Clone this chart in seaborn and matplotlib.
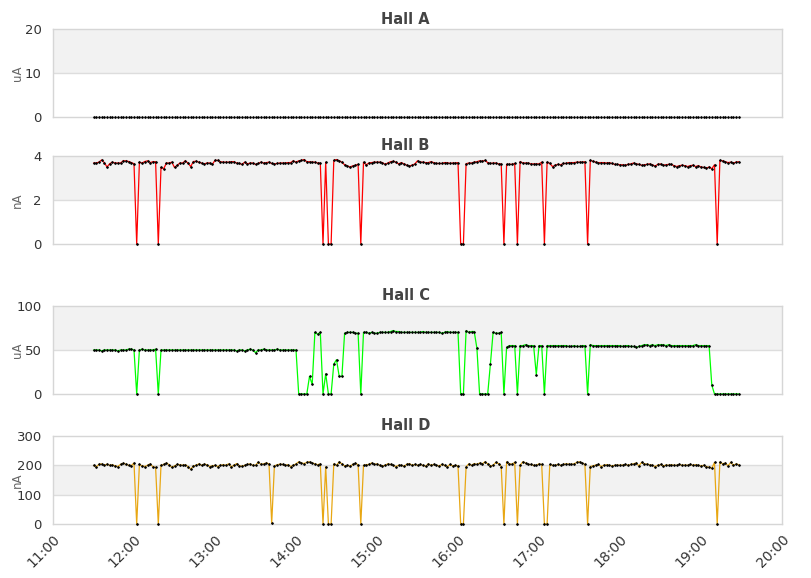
#! python3

# Import Libraries
import pandas as pd
import matplotlib
matplotlib.use("Agg")
import matplotlib.pyplot as plt
import matplotlib.dates as mdates
import seaborn as sns

# Beam current per hall, one reading every 2 minutes from 11:30

start_time = "2020-01-01 11:30"
sample_step = "2min"
n_points = 240

hall_a = [0.0] * n_points

hall_b = [
    3.68, 3.68, 3.72, 3.82, 3.70, 3.50, 3.65, 3.72, 3.68, 3.68, 3.68, 3.78, 3.78, 3.75, 3.70, 3.65, 0.0, 3.72, 3.68, 3.75,
    3.78, 3.70, 3.74, 3.74, 0.0, 3.48, 3.42, 3.68, 3.68, 3.72, 3.48, 3.58, 3.68, 3.68, 3.78, 3.68, 3.52, 3.75, 3.76, 3.72,
    3.68, 3.64, 3.68, 3.68, 3.62, 3.80, 3.80, 3.74, 3.72, 3.72, 3.72, 3.74, 3.74, 3.68, 3.66, 3.62, 3.72, 3.64, 3.68, 3.68,
    3.62, 3.66, 3.72, 3.68, 3.70, 3.72, 3.66, 3.64, 3.66, 3.68, 3.68, 3.68, 3.70, 3.70, 3.78, 3.72, 3.78, 3.80, 3.84, 3.74,
    3.74, 3.72, 3.72, 3.68, 3.68, 0.0, 3.72, 0.0, 0.0, 3.80, 3.84, 3.78, 3.72, 3.60, 3.55, 3.50, 3.55, 3.58, 3.62, 0.0,
    3.72, 3.60, 3.68, 3.70, 3.72, 3.72, 3.72, 3.70, 3.62, 3.68, 3.74, 3.76, 3.72, 3.64, 3.70, 3.64, 3.58, 3.55, 3.58, 3.64,
    3.78, 3.72, 3.72, 3.70, 3.70, 3.74, 3.70, 3.66, 3.66, 3.66, 3.70, 3.70, 3.66, 3.68, 3.68, 3.70, 0.0, 0.0, 3.65, 3.68,
    3.68, 3.72, 3.74, 3.78, 3.76, 3.80, 3.70, 3.66, 3.68, 3.68, 3.64, 3.64, 0.0, 3.62, 3.62, 3.62, 3.66, 0.0, 3.75, 3.68,
    3.68, 3.68, 3.64, 3.64, 3.64, 3.64, 3.72, 0.0, 3.72, 3.66, 3.52, 3.58, 3.62, 3.60, 3.66, 3.66, 3.70, 3.70, 3.70, 3.72,
    3.72, 3.72, 3.74, 0.0, 3.80, 3.76, 3.72, 3.70, 3.70, 3.70, 3.68, 3.70, 3.66, 3.62, 3.62, 3.60, 3.60, 3.58, 3.62, 3.64,
    3.68, 3.64, 3.62, 3.58, 3.60, 3.62, 3.64, 3.60, 3.54, 3.62, 3.64, 3.58, 3.60, 3.62, 3.62, 3.56, 3.52, 3.56, 3.58, 3.56,
    3.52, 3.56, 3.58, 3.52, 3.56, 3.50, 3.48, 3.45, 3.50, 3.42, 3.60, 0.0, 3.80, 3.78, 3.74, 3.70, 3.72, 3.68, 3.72, 3.74,
]

hall_c = [
    50, 50, 50, 49, 50, 50, 50, 50, 50, 49, 50, 50, 50, 51, 51, 50, 0, 50, 51, 50,
    50, 50, 50, 51, 0, 50, 50, 50, 50, 50, 50, 50, 50, 50, 50, 50, 50, 50, 50, 50,
    50, 50, 50, 50, 50, 50, 50, 50, 50, 50, 50, 50, 50, 49, 50, 50, 49, 50, 51, 50,
    47, 50, 50, 51, 50, 50, 50, 50, 51, 50, 50, 50, 50, 50, 50, 50, 0, 0, 0, 0,
    20, 11, 70, 68, 70, 0, 23, 0, 0, 34, 39, 20, 20, 69, 70, 70, 70, 69, 69, 0,
    70, 70, 69, 70, 69, 69, 70, 70, 70, 70, 71, 72, 71, 71, 70, 70, 70, 70, 70, 70,
    70, 70, 71, 70, 70, 70, 70, 70, 70, 69, 70, 71, 70, 70, 70, 70, 0, 0, 72, 70,
    71, 71, 52, 0, 0, 0, 0, 34, 70, 69, 69, 70, 0, 53, 55, 55, 55, 0, 55, 55,
    56, 55, 55, 55, 22, 55, 55, 0, 55, 55, 55, 55, 55, 55, 55, 55, 54, 54, 55, 54,
    54, 55, 55, 0, 56, 55, 55, 55, 55, 55, 55, 55, 55, 55, 55, 55, 54, 55, 55, 54,
    54, 53, 54, 55, 56, 56, 55, 56, 55, 56, 56, 56, 55, 56, 55, 55, 55, 55, 55, 55,
    55, 55, 55, 56, 55, 55, 55, 55, 55, 10, 0, 0, 0, 0, 0, 0, 0, 0, 0, 0,
]

hall_d = [
    200, 195, 203, 205, 200, 204, 200, 202, 198, 196, 203, 207, 204, 200, 199, 208, 0, 203, 198, 196,
    200, 205, 195, 193, 0, 200, 203, 208, 202, 193, 198, 203, 202, 200, 202, 196, 186, 198, 200, 205,
    200, 204, 202, 196, 198, 200, 196, 200, 202, 200, 205, 195, 200, 206, 198, 197, 200, 203, 205, 200,
    200, 211, 203, 205, 208, 205, 3, 198, 202, 204, 203, 200, 202, 196, 200, 205, 212, 208, 206, 210,
    212, 208, 205, 202, 205, 0, 195, 0, 0, 205, 200, 212, 205, 198, 200, 197, 203, 207, 202, 0,
    200, 202, 203, 208, 203, 205, 200, 198, 200, 205, 203, 200, 196, 200, 200, 197, 203, 206, 200, 203,
    200, 203, 200, 197, 205, 200, 203, 200, 198, 203, 200, 195, 203, 198, 200, 198, 0, 0, 195, 205,
    200, 206, 203, 208, 205, 212, 205, 198, 200, 210, 206, 196, 0, 212, 205, 204, 210, 0, 200, 212,
    208, 203, 203, 200, 200, 205, 203, 0, 0, 203, 200, 200, 203, 200, 203, 205, 204, 203, 205, 210,
    212, 208, 203, 0, 196, 198, 201, 203, 196, 200, 202, 200, 198, 200, 201, 200, 201, 203, 200, 203,
    205, 208, 198, 210, 205, 204, 202, 200, 196, 200, 203, 198, 201, 200, 202, 200, 200, 203, 200, 201,
    200, 203, 200, 202, 200, 198, 200, 196, 193, 190, 210, 0, 212, 205, 208, 198, 210, 200, 205, 202,
]

times = pd.date_range(start_time, periods=n_points, freq=sample_step)

hall_names = ["Hall A", "Hall B", "Hall C", "Hall D"]
hall_values = [hall_a, hall_b, hall_c, hall_d]
hall_units = ["uA", "nA", "uA", "nA"]
hall_ticks = [[0, 10, 20], [0, 2, 4], [0, 50, 100], [0, 100, 200, 300]]
hall_colors = ["#4572a7", "#ff0000", "#00ff00", "#e8a713"]

# Style
sns.set_style("white")
plt.rcParams["font.family"] = ["DejaVu Sans"]

fig = plt.figure(figsize=(8.11, 5.78), dpi=100)

# pixel layout of the reference (top, bottom of each plot area, title centre)
W, H = 811.0, 578.0
left_px, right_px = 53, 782
area_px = [(29, 117, 19), (156, 244, 146), (306, 394, 296), (436, 524, 426)]

x_min = pd.Timestamp("2020-01-01 11:00")
x_max = pd.Timestamp("2020-01-01 20:00")

for k, (name, vals, unit, ticks, col) in enumerate(
        zip(hall_names, hall_values, hall_units, hall_ticks, hall_colors)):
    top, bot, title_y = area_px[k]
    ax = fig.add_axes([left_px / W, 1 - bot / H, (right_px - left_px) / W, (bot - top) / H])

    # alternating bands + grid
    for j in range(len(ticks) - 1):
        if j % 2 == 1:
            ax.axhspan(ticks[j], ticks[j + 1], color="#f2f2f2", zorder=0, lw=0)
    for t in ticks[1:-1]:
        ax.axhline(t, color="#dddddd", lw=1, zorder=1)

    # Plot Points
    sns.lineplot(x=times, y=vals, ax=ax, color=col,
                 linewidth=0 if k == 0 else 0.9,
                 marker="D", markersize=1.5,
                 markerfacecolor="black", markeredgecolor="black", markeredgewidth=0.2,
                 zorder=4, clip_on=False)

    ax.set_ylim(ticks[0], ticks[-1])
    ax.set_yticks(ticks)
    ax.set_xlim(x_min, x_max)
    ax.set_xlabel("")
    ax.set_ylabel(unit, fontsize=8.5, color="#666666")
    ax.yaxis.set_label_coords((24 - left_px) / (right_px - left_px), 0.5)
    ax.tick_params(axis="y", length=0, labelsize=9.5, labelcolor="#333333", pad=8)

    for s in ax.spines.values():
        s.set_color("#d6d6d6")
        s.set_linewidth(1)
        s.set_zorder(2)

    ax.xaxis.set_major_locator(mdates.HourLocator())
    ax.xaxis.set_major_formatter(mdates.DateFormatter("%H:%M"))
    if k < 3:
        ax.tick_params(axis="x", length=0, labelbottom=False)
    else:
        ax.tick_params(axis="x", length=0, labelsize=10, labelcolor="#333333", pad=6)
        for lab in ax.get_xticklabels():
            lab.set_rotation(45)
            lab.set_ha("right")
            lab.set_rotation_mode("anchor")

    # Decoration
    fig.text(0.5, 1 - title_y / H, name, ha="center", va="center",
             fontsize=10.5, fontweight="bold", color="#444444")

# Save Plot
fig.savefig("out.png", dpi=100)
